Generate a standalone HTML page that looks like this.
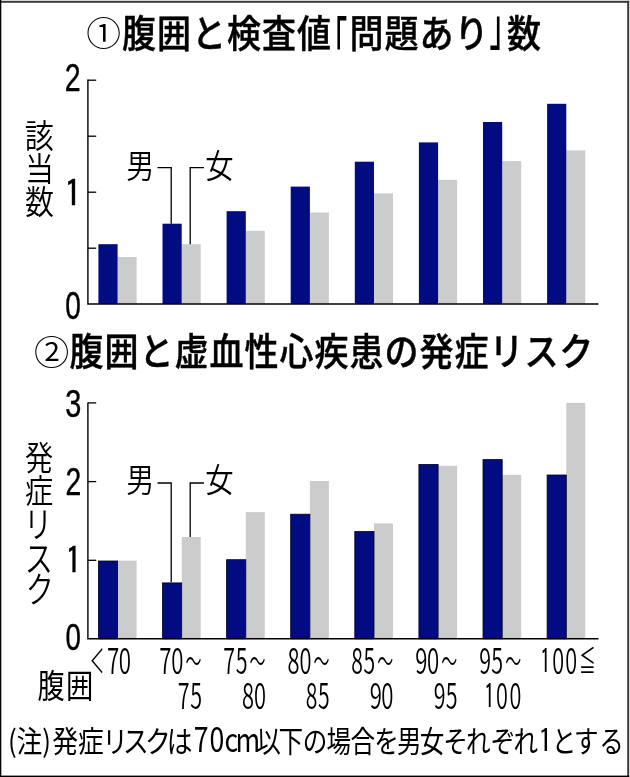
<!DOCTYPE html>
<html lang="ja"><head><meta charset="utf-8"><title>腹囲と検査値・虚血性心疾患の発症リスク</title>
<style>
html,body{margin:0;padding:0;background:#fff;}
body{width:630px;height:777px;overflow:hidden;font-family:"Liberation Sans","Noto Sans CJK JP",sans-serif;}
svg{display:block;}
text{fill:#000;}
</style></head><body>
<svg width="630" height="777" viewBox="0 0 630 777">
<rect x="0" y="0" width="630" height="777" fill="#fff"/>
<rect x="0" y="0.8" width="629.2" height="2" fill="#3a3a3a"/>
<rect x="627.2" y="0.8" width="2" height="776.2" fill="#3a3a3a"/>
<rect x="0" y="0" width="1.3" height="777" fill="#000"/>
<rect x="0" y="775.6" width="629.2" height="1.4" fill="#000"/>
<text transform="scale(1.029 1)" x="83.94" y="45.73" font-family='"Noto Sans CJK JP DemiLight","Noto Sans CJK JP","Liberation Sans",sans-serif' font-size="33.78" font-weight="400" >①</text>
<text transform="translate(122.00 46.60) scale(0.895 1)" font-family='"Noto Sans CJK JP","Liberation Sans",sans-serif' font-size="38" font-weight="500" text-anchor="start" stroke="#000" stroke-width="0.45" letter-spacing="1.11">腹囲と検査値</text>
<text transform="scale(0.539 1)" x="592.81" y="59.86" font-family='"Noto Sans CJK JP","Liberation Sans",sans-serif' font-size="51.5" font-weight="500" >「</text>
<text transform="translate(349.50 46.60) scale(0.895 1)" font-family='"Noto Sans CJK JP","Liberation Sans",sans-serif' font-size="38" font-weight="500" text-anchor="start" stroke="#000" stroke-width="0.45" letter-spacing="1.11">問題あり</text>
<text transform="scale(0.554 1)" x="883.56" y="44.50" font-family='"Noto Sans CJK JP","Liberation Sans",sans-serif' font-size="51.2" font-weight="500" >」</text>
<text transform="translate(507.00 46.60) scale(0.895 1)" font-family='"Noto Sans CJK JP","Liberation Sans",sans-serif' font-size="38" font-weight="500" text-anchor="start" stroke="#000" stroke-width="0.45" letter-spacing="1.11">数</text>
<text transform="scale(1.042 1)" x="32.63" y="364.53" font-family='"Noto Sans CJK JP DemiLight","Noto Sans CJK JP","Liberation Sans",sans-serif' font-size="33.78" font-weight="400" >②</text>
<text transform="translate(69.50 365.20) scale(0.895 1)" font-family='"Noto Sans CJK JP","Liberation Sans",sans-serif' font-size="38" font-weight="500" text-anchor="start" stroke="#000" stroke-width="0.45" letter-spacing="1.11">腹囲と虚血性心疾患の発症リスク</text>
<rect x="117.60" y="257.00" width="19.0" height="47.00" fill="#cccccc"/>
<rect x="98.40" y="244.20" width="19.2" height="59.80" fill="#010c82"/>
<rect x="181.70" y="244.20" width="19.0" height="59.80" fill="#cccccc"/>
<rect x="162.50" y="223.70" width="19.2" height="80.30" fill="#010c82"/>
<rect x="245.80" y="230.80" width="19.0" height="73.20" fill="#cccccc"/>
<rect x="226.60" y="211.20" width="19.2" height="92.80" fill="#010c82"/>
<rect x="309.90" y="212.50" width="19.0" height="91.50" fill="#cccccc"/>
<rect x="290.70" y="186.60" width="19.2" height="117.40" fill="#010c82"/>
<rect x="374.00" y="193.40" width="19.0" height="110.60" fill="#cccccc"/>
<rect x="354.80" y="161.70" width="19.2" height="142.30" fill="#010c82"/>
<rect x="438.10" y="179.80" width="19.0" height="124.20" fill="#cccccc"/>
<rect x="418.90" y="142.40" width="19.2" height="161.60" fill="#010c82"/>
<rect x="502.20" y="161.10" width="19.0" height="142.90" fill="#cccccc"/>
<rect x="483.00" y="122.00" width="19.2" height="182.00" fill="#010c82"/>
<rect x="566.30" y="150.40" width="19.0" height="153.60" fill="#cccccc"/>
<rect x="547.10" y="103.80" width="19.2" height="200.20" fill="#010c82"/>
<path d="M87.9 79.6V304H598.5" fill="none" stroke="#000" stroke-width="1.4"/>
<path d="M87.9 248.2H96.2" stroke="#000" stroke-width="1.3"/>
<path d="M87.9 192.2H96.2" stroke="#000" stroke-width="1.3"/>
<path d="M87.9 136.2H96.2" stroke="#000" stroke-width="1.3"/>
<path d="M87.9 80.2H96.2" stroke="#000" stroke-width="1.3"/>
<rect x="117.60" y="560.60" width="19.0" height="78.20" fill="#cccccc"/>
<rect x="98.40" y="561.00" width="19.2" height="77.80" fill="#010c82" stroke="#00021e" stroke-width="0.8"/>
<rect x="181.70" y="537.00" width="19.0" height="101.80" fill="#cccccc"/>
<rect x="162.50" y="582.90" width="19.2" height="55.90" fill="#010c82" stroke="#00021e" stroke-width="0.8"/>
<rect x="245.80" y="512.10" width="19.0" height="126.70" fill="#cccccc"/>
<rect x="226.60" y="559.70" width="19.2" height="79.10" fill="#010c82" stroke="#00021e" stroke-width="0.8"/>
<rect x="309.90" y="481.00" width="19.0" height="157.80" fill="#cccccc"/>
<rect x="290.70" y="514.20" width="19.2" height="124.60" fill="#010c82" stroke="#00021e" stroke-width="0.8"/>
<rect x="374.00" y="523.40" width="19.0" height="115.40" fill="#cccccc"/>
<rect x="354.80" y="531.60" width="19.2" height="107.20" fill="#010c82" stroke="#00021e" stroke-width="0.8"/>
<rect x="438.10" y="465.80" width="19.0" height="173.00" fill="#cccccc"/>
<rect x="418.90" y="464.50" width="19.2" height="174.30" fill="#010c82" stroke="#00021e" stroke-width="0.8"/>
<rect x="502.20" y="474.80" width="19.0" height="164.00" fill="#cccccc"/>
<rect x="483.00" y="459.60" width="19.2" height="179.20" fill="#010c82" stroke="#00021e" stroke-width="0.8"/>
<rect x="566.30" y="402.90" width="19.0" height="235.90" fill="#cccccc"/>
<rect x="547.10" y="475.00" width="19.2" height="163.80" fill="#010c82" stroke="#00021e" stroke-width="0.8"/>
<path d="M87.9 402.5V638.8H598.5" fill="none" stroke="#000" stroke-width="1.4"/>
<path d="M87.9 560.30H96.2" stroke="#000" stroke-width="1.3"/>
<path d="M87.9 481.60H96.2" stroke="#000" stroke-width="1.3"/>
<path d="M87.9 402.90H96.2" stroke="#000" stroke-width="1.3"/>
<path d="M157.5 167.6H171.2V223.7" fill="none" stroke="#000" stroke-width="1.3"/>
<path d="M204 167.6H190.2V244.2" fill="none" stroke="#000" stroke-width="1.3"/>
<path d="M157.5 483H171.2V582.2" fill="none" stroke="#000" stroke-width="1.3"/>
<path d="M204 483H190.2V537.0" fill="none" stroke="#000" stroke-width="1.3"/>
<text transform="scale(0.861 1)" x="146.69" y="177.60" font-family='"Noto Sans CJK JP DemiLight","Noto Sans CJK JP","Liberation Sans",sans-serif' font-size="32.7" font-weight="400" >男</text>
<text transform="scale(0.867 1)" x="236.81" y="177.60" font-family='"Noto Sans CJK JP DemiLight","Noto Sans CJK JP","Liberation Sans",sans-serif' font-size="32.7" font-weight="400" >女</text>
<text transform="scale(0.861 1)" x="146.69" y="492.20" font-family='"Noto Sans CJK JP DemiLight","Noto Sans CJK JP","Liberation Sans",sans-serif' font-size="32.7" font-weight="400" >男</text>
<text transform="scale(0.867 1)" x="236.81" y="492.20" font-family='"Noto Sans CJK JP DemiLight","Noto Sans CJK JP","Liberation Sans",sans-serif' font-size="32.7" font-weight="400" >女</text>
<text transform="scale(0.750 1)" x="86.22" y="90.70" font-family='"Liberation Sans","Noto Sans CJK JP",sans-serif' font-size="38.12" font-weight="400" stroke="#000" stroke-width="0.4">2</text>
<text transform="scale(0.997 1)" x="64.13" y="206.69" font-family='"IPAGothic","Liberation Sans",sans-serif' font-size="36.03" font-weight="400" stroke="#000" stroke-width="0.4">1</text>
<text transform="scale(0.732 1)" x="88.99" y="319.00" font-family='"Liberation Sans","Noto Sans CJK JP",sans-serif' font-size="38.26" font-weight="400" stroke="#000" stroke-width="0.4">0</text>
<text transform="scale(0.753 1)" x="86.75" y="417.00" font-family='"Liberation Sans","Noto Sans CJK JP",sans-serif' font-size="38.4" font-weight="400" stroke="#000" stroke-width="0.4">3</text>
<text transform="scale(0.747 1)" x="87.75" y="494.80" font-family='"Liberation Sans","Noto Sans CJK JP",sans-serif' font-size="37.97" font-weight="400" stroke="#000" stroke-width="0.4">2</text>
<text transform="scale(0.905 1)" x="72.04" y="574.11" font-family='"IPAGothic","Liberation Sans",sans-serif' font-size="36.45" font-weight="400" stroke="#000" stroke-width="0.4">1</text>
<text transform="scale(0.729 1)" x="89.85" y="649.91" font-family='"Liberation Sans","Noto Sans CJK JP",sans-serif' font-size="37.84" font-weight="400" stroke="#000" stroke-width="0.4">0</text>
<text transform="scale(0.865 1)" x="28.67 28.93 28.93" y="147.99 180.59 214.19" font-family='"Noto Sans CJK JP DemiLight","Noto Sans CJK JP","Liberation Sans",sans-serif' font-size="33.5" font-weight="400" >該当数</text>
<text transform="scale(0.839 1)" x="29.71 29.71" y="470.49 503.49" font-family='"Noto Sans CJK JP DemiLight","Noto Sans CJK JP","Liberation Sans",sans-serif' font-size="33.5" font-weight="400" >発症</text>
<text transform="scale(0.782 1)" x="30.60 31.75 33.01" y="538.06 571.62 603.40" font-family='"Noto Sans CJK JP DemiLight","Noto Sans CJK JP","Liberation Sans",sans-serif' font-size="36.0" font-weight="400" >リスク</text>
<text transform="scale(0.637 1)" x="250.00 269.03" y="673.80" font-family='"Noto Sans CJK JP DemiLight","Noto Sans CJK JP","Liberation Sans",sans-serif' font-size="34.9" font-weight="400" >70</text>
<text transform="scale(0.541 1)" x="342.81" y="672.00" font-family='"Noto Sans CJK JP DemiLight","Noto Sans CJK JP","Liberation Sans",sans-serif' font-size="29.6" font-weight="400" >～</text>
<text transform="scale(0.616 1)" x="288.67 308.71" y="709.00" font-family='"Noto Sans CJK JP DemiLight","Noto Sans CJK JP","Liberation Sans",sans-serif' font-size="34.9" font-weight="400" >75</text>
<text transform="scale(0.616 1)" x="362.53 382.74" y="673.80" font-family='"Noto Sans CJK JP DemiLight","Noto Sans CJK JP","Liberation Sans",sans-serif' font-size="34.9" font-weight="400" >75</text>
<text transform="scale(0.541 1)" x="461.06" y="672.00" font-family='"Noto Sans CJK JP DemiLight","Noto Sans CJK JP","Liberation Sans",sans-serif' font-size="29.6" font-weight="400" >～</text>
<text transform="scale(0.627 1)" x="386.07 404.98" y="709.00" font-family='"Noto Sans CJK JP DemiLight","Noto Sans CJK JP","Liberation Sans",sans-serif' font-size="34.9" font-weight="400" >80</text>
<text transform="scale(0.627 1)" x="458.72 477.79" y="673.80" font-family='"Noto Sans CJK JP DemiLight","Noto Sans CJK JP","Liberation Sans",sans-serif' font-size="34.9" font-weight="400" >80</text>
<text transform="scale(0.541 1)" x="579.31" y="672.00" font-family='"Noto Sans CJK JP DemiLight","Noto Sans CJK JP","Liberation Sans",sans-serif' font-size="29.6" font-weight="400" >～</text>
<text transform="scale(0.606 1)" x="504.67 524.76" y="709.00" font-family='"Noto Sans CJK JP DemiLight","Noto Sans CJK JP","Liberation Sans",sans-serif' font-size="34.9" font-weight="400" >85</text>
<text transform="scale(0.606 1)" x="579.75 600.00" y="673.80" font-family='"Noto Sans CJK JP DemiLight","Noto Sans CJK JP","Liberation Sans",sans-serif' font-size="34.9" font-weight="400" >85</text>
<text transform="scale(0.541 1)" x="697.56" y="672.00" font-family='"Noto Sans CJK JP DemiLight","Noto Sans CJK JP","Liberation Sans",sans-serif' font-size="29.6" font-weight="400" >～</text>
<text transform="scale(0.637 1)" x="580.38 598.71" y="709.00" font-family='"Noto Sans CJK JP DemiLight","Noto Sans CJK JP","Liberation Sans",sans-serif' font-size="34.9" font-weight="400" >90</text>
<text transform="scale(0.637 1)" x="651.82 670.31" y="673.80" font-family='"Noto Sans CJK JP DemiLight","Noto Sans CJK JP","Liberation Sans",sans-serif' font-size="34.9" font-weight="400" >90</text>
<text transform="scale(0.541 1)" x="815.81" y="672.00" font-family='"Noto Sans CJK JP DemiLight","Noto Sans CJK JP","Liberation Sans",sans-serif' font-size="29.6" font-weight="400" >～</text>
<text transform="scale(0.616 1)" x="704.09 723.59" y="709.00" font-family='"Noto Sans CJK JP DemiLight","Noto Sans CJK JP","Liberation Sans",sans-serif' font-size="34.9" font-weight="400" >95</text>
<text transform="scale(0.616 1)" x="777.95 797.62" y="673.80" font-family='"Noto Sans CJK JP DemiLight","Noto Sans CJK JP","Liberation Sans",sans-serif' font-size="34.9" font-weight="400" >95</text>
<text transform="scale(0.541 1)" x="934.07" y="672.00" font-family='"Noto Sans CJK JP DemiLight","Noto Sans CJK JP","Liberation Sans",sans-serif' font-size="29.6" font-weight="400" >～</text>
<text transform="scale(0.620 1)" x="780.46 799.81 821.59" y="709.00" font-family='"Noto Sans CJK JP DemiLight","Noto Sans CJK JP","Liberation Sans",sans-serif' font-size="34.9" font-weight="400" ><tspan font-family='"IPAGothic","Liberation Sans",sans-serif' font-weight="400">1</tspan>00</text>
<text transform="scale(0.434 1)" x="206.82" y="672.80" font-family='"Noto Sans CJK JP DemiLight","Noto Sans CJK JP","Liberation Sans",sans-serif' font-size="33" font-weight="400" >＜</text>
<text transform="scale(0.640 1)" x="167.22 185.61" y="673.80" font-family='"Noto Sans CJK JP DemiLight","Noto Sans CJK JP","Liberation Sans",sans-serif' font-size="34.9" font-weight="400" >70</text>
<text transform="scale(0.620 1)" x="871.03 890.70 911.51" y="673.80" font-family='"Noto Sans CJK JP DemiLight","Noto Sans CJK JP","Liberation Sans",sans-serif' font-size="34.9" font-weight="400" ><tspan font-family='"IPAGothic","Liberation Sans",sans-serif' font-weight="400">1</tspan>00</text>
<text transform="scale(0.576 1)" x="1005.06" y="672.50" font-family='"Noto Sans CJK JP DemiLight","Noto Sans CJK JP","Liberation Sans",sans-serif' font-size="29" font-weight="400" >≦</text>
<text transform="scale(0.835 1)" x="44.89 79.08" y="697.70" font-family='"Noto Sans CJK JP","Liberation Sans",sans-serif' font-size="32.7" font-weight="400" >腹囲</text>
<text transform="scale(0.860 1)" x="9.32 19.30 49.15 60.64 90.76 118.90 142.91 168.61 193.83" y="751.80" font-family='"Noto Sans CJK JP","Liberation Sans",sans-serif' font-size="30" font-weight="400" >(注)発症リスクは</text>
<text transform="scale(0.789 1)" x="245.58 265.60 284.70 298.63" y="751.80" font-family='"Noto Sans CJK JP","Liberation Sans",sans-serif' font-size="33.8" font-weight="400" >70cm</text>
<text transform="scale(0.820 1)" x="312.51 339.70 369.15 398.11 427.39 456.27 484.10 511.95 540.66 568.37 598.53 626.30" y="751.80" font-family='"Noto Sans CJK JP","Liberation Sans",sans-serif' font-size="30" font-weight="400" >以下の場合を男女それぞれ</text>
<text transform="scale(0.877 1)" x="613.56" y="753.28" font-family='"IPAGothic","Liberation Sans",sans-serif' font-size="33.67" font-weight="400" >1</text>
<text transform="scale(0.820 1)" x="673.01 700.02 730.90" y="751.80" font-family='"Noto Sans CJK JP","Liberation Sans",sans-serif' font-size="30" font-weight="400" >とする</text>
</svg>
</body></html>
